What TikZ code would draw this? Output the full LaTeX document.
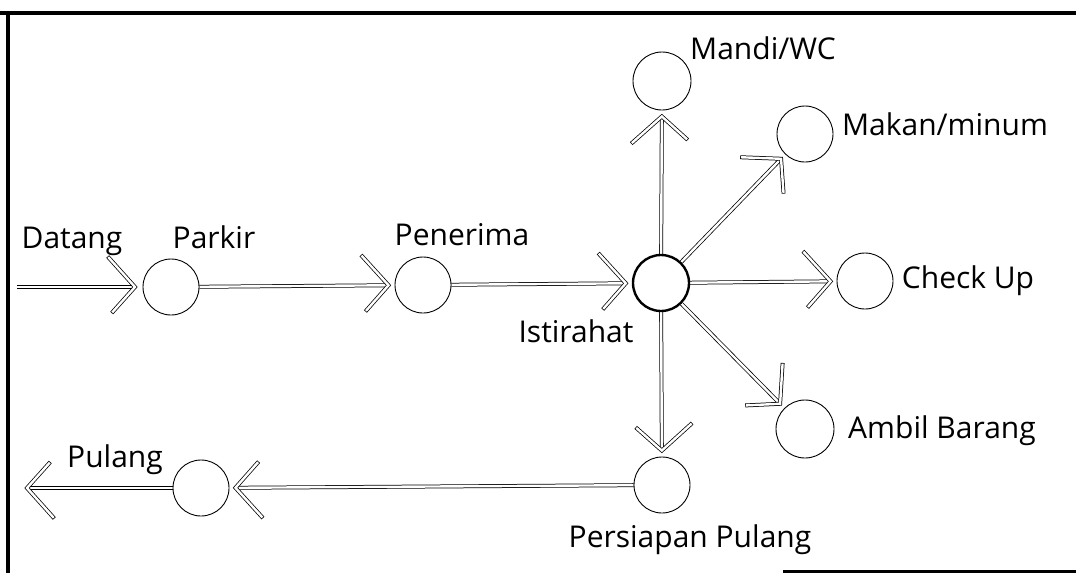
\documentclass[tikz,border=0pt]{standalone}
\usepackage{fontspec}
\setmainfont{Open Sans}
\usetikzlibrary{decorations.markings}
\pgfdeclarelayer{bg}
\pgfsetlayers{bg,main}
\tikzset{
  dbl/.style={draw, line width=0.75pt, double=white, double distance=2.4pt},
  flow/.style={dbl, shorten >=6pt, postaction={decorate},
    decoration={markings, mark=at position -6pt with {\draw[dbl, line cap=rect, line join=miter] (-26pt,29pt) -- (0,0) -- (-26pt,-29pt);}}},
  circ/.style={circle, draw, line width=0.9pt, minimum size=56pt, inner sep=0pt},
  hub/.style={circ, line width=2.4pt},
  lab/.style={font=\fontsize{30}{36}\selectfont, inner sep=0pt, anchor=base},
  frame/.style={line width=4pt}
}
\begin{document}
\begin{tikzpicture}[x=1pt,y=-1pt]
\useasboundingbox (0,0) rectangle (1076,573);
% frame
\draw[frame] (0,13) -- (1076,13);
\draw[frame] (8,11) -- (8,573);
\draw[line width=3pt] (783,571) -- (1076,571);
% circles
\node[circ] (parkir) at (171,287) {};
\node[circ] (penerima) at (423,285) {};
\node[hub] (ist) at (661,283) {};
\node[circ, minimum size=58pt] (mandi) at (662,81) {};
\node[circ] (makan) at (805,134) {};
\node[circ] (check) at (865,281) {};
\node[circ, minimum size=58pt] (ambil) at (805,429) {};
\node[circ] (persiap) at (662,485) {};
\node[circ] (pulang) at (201,488) {};
\coordinate (datangstart) at (17,287);
\coordinate (datangend) at (141,287);
\coordinate (pulangend) at (21,488);
% labels
\node[lab] (tdatang) at (72,248) {Datang};
\node[lab] (tparkir) at (214,248) {Parkir};
\node[lab] (tpenerima) at (462,245) {Penerima};
\node[lab] (tist) at (576,342) {Istirahat};
\node[lab] (tmandi) at (763,59) {Mandi/WC};
\node[lab] (tmakan) at (945,135) {Makan/minum};
\node[lab] (tcheck) at (968,288) {Check Up};
\node[lab] (tambil) at (942,438) {Ambil Barang};
\node[lab] (tpersiap) at (690,547) {Persiapan Pulang};
\node[lab] (tpulang) at (115,467) {Pulang};
% connectors
\begin{pgfonlayer}{bg}
\draw[flow] (datangstart) -- (datangend);
\draw[flow] (parkir) -- (penerima);
\draw[flow] (penerima) -- (ist);
\draw[flow] (ist) -- (mandi);
\draw[flow] (ist) -- (makan);
\draw[flow] (ist) -- (check);
\draw[flow] (ist) -- (ambil);
\draw[flow] (ist) -- (persiap);
\draw[flow] (persiap) -- (pulang);
\draw[flow] (pulang) -- (pulangend);
\end{pgfonlayer}
\end{tikzpicture}
\end{document}
